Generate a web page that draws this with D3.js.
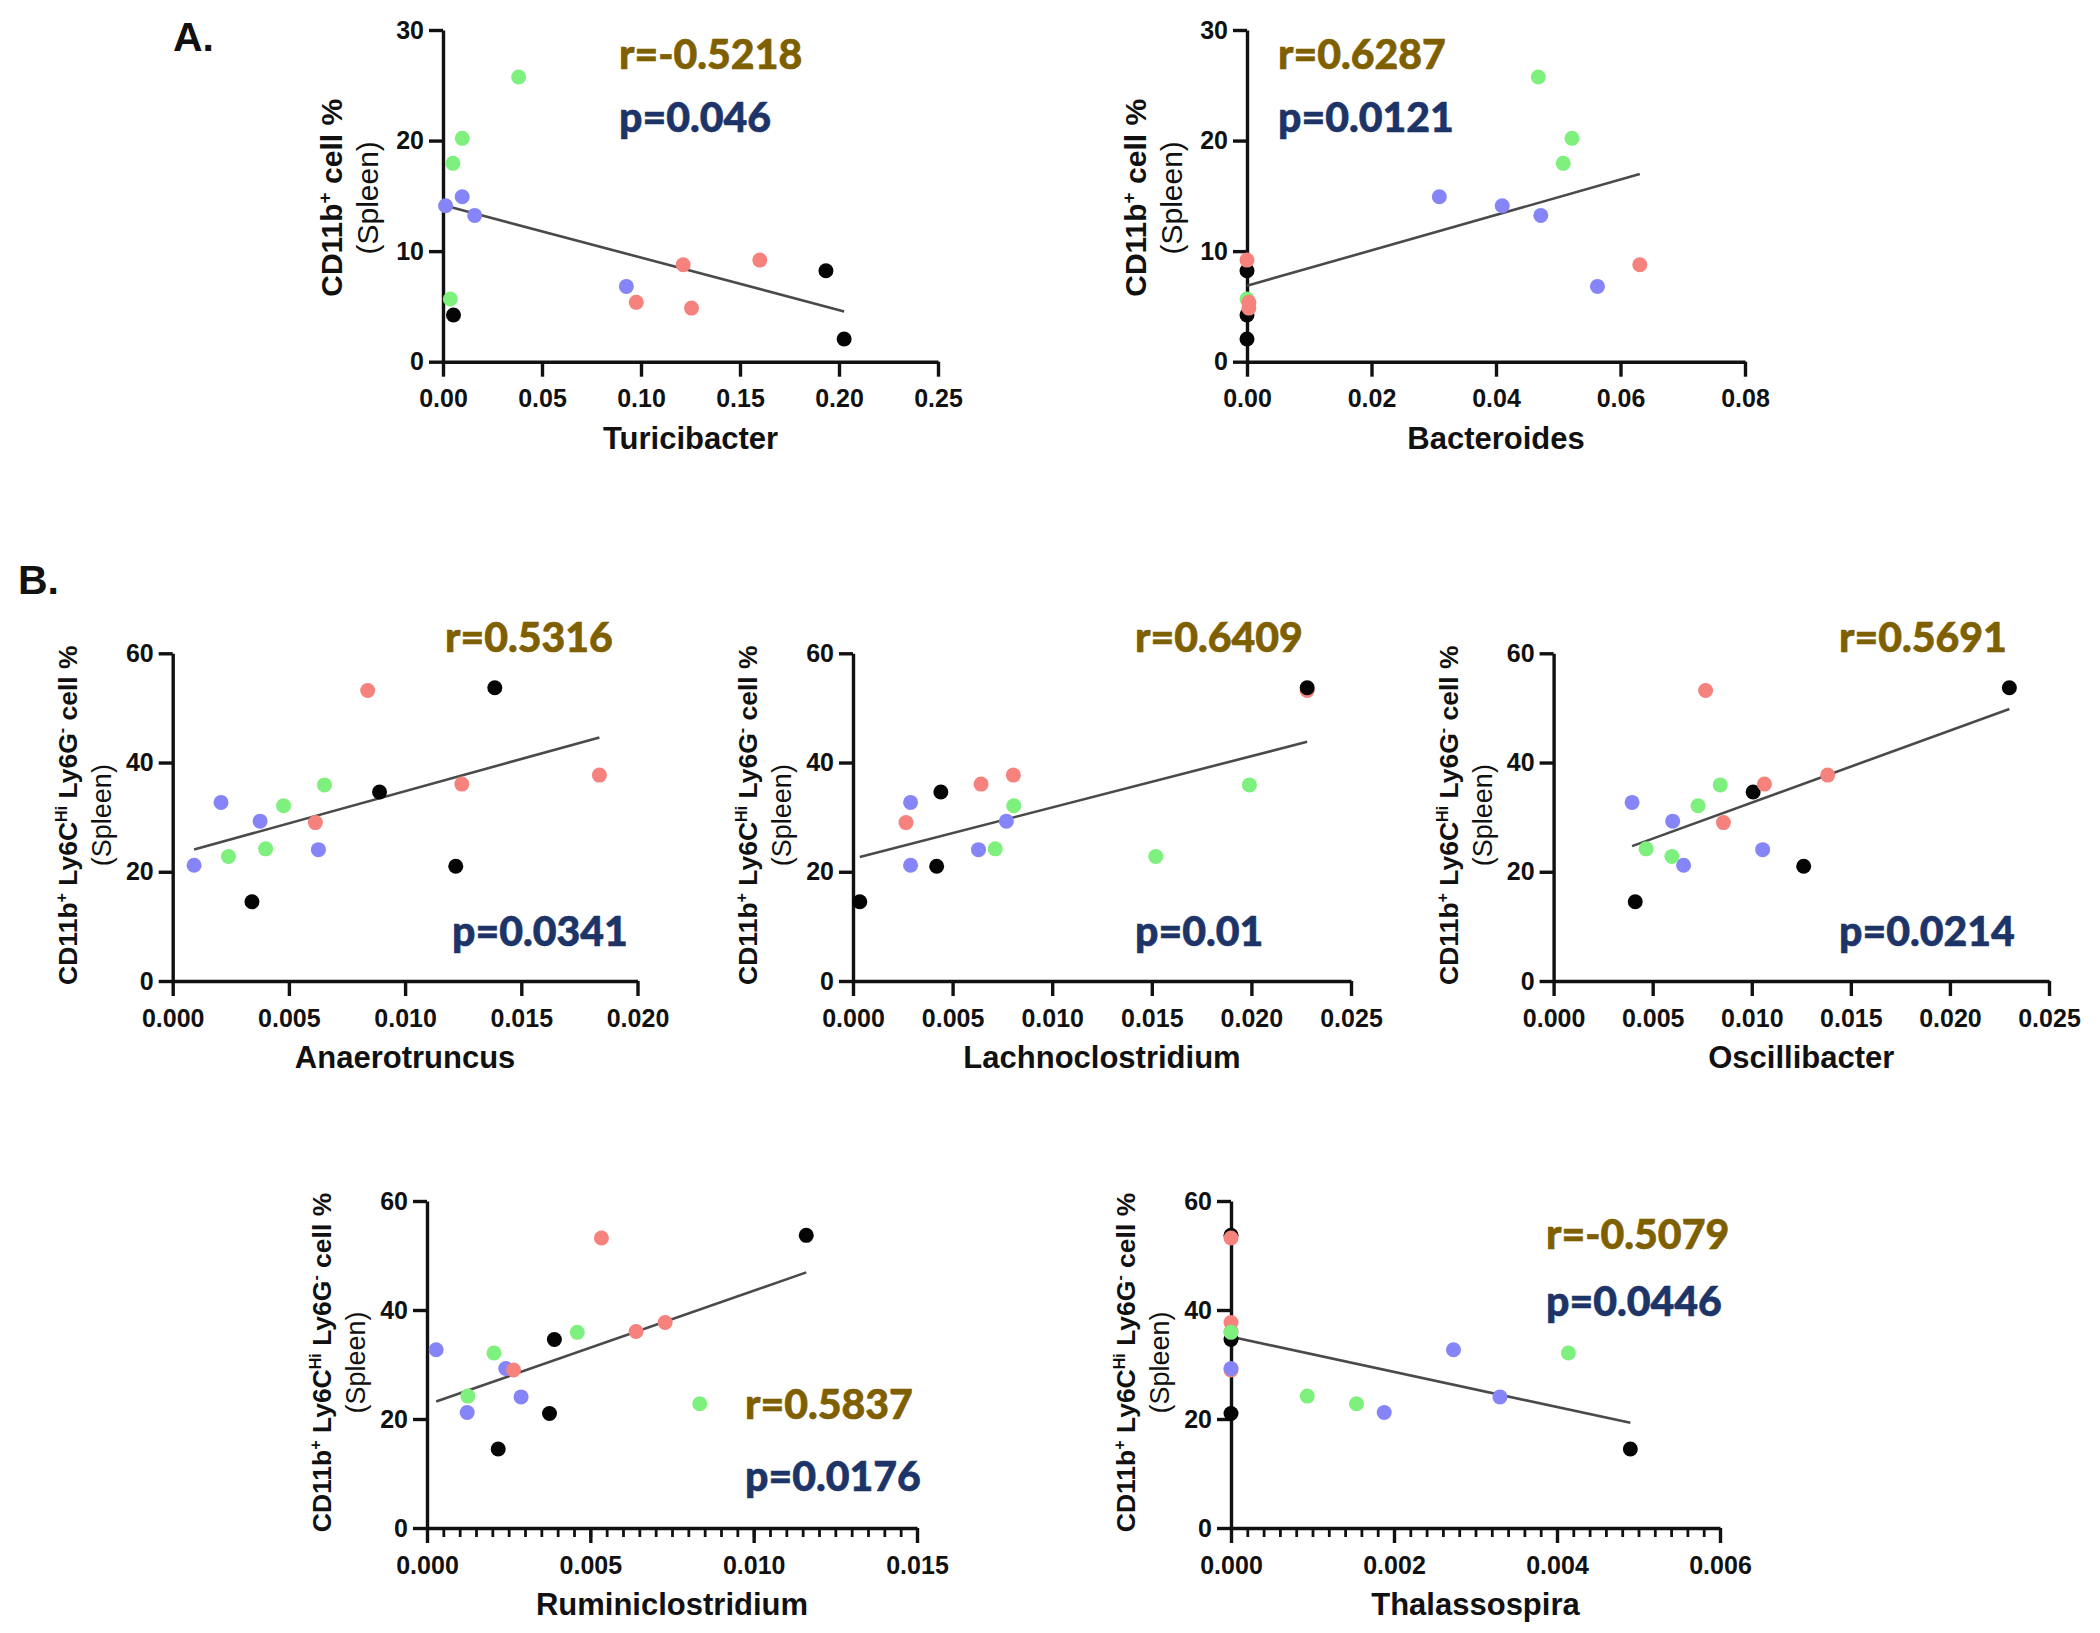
<!DOCTYPE html>
<html><head><meta charset="utf-8">
<script src="https://cdn.jsdelivr.net/npm/d3@7"></script>
<style>
body{margin:0;background:#fff;}
svg{display:block;}
</style></head><body><svg id="chart" width="2100" height="1633"></svg>
<script>
// ---------------- DATA ----------------
const groupColors = {black:"#050505", blue:"#8585F8", green:"#7EF07E", red:"#F5827D"};

// Panel A: mice (group, CD11b+ cell %)
const groupsA = ["black","black","black","red","red","red","red","green","green","green","green","blue","blue","blue","blue"];
const cd11bPct = [8.23, 4.22, 2.05, 9.19, 8.77, 5.37, 4.85, 25.75, 20.2, 17.94, 5.67, 14.92, 14.1, 13.23, 6.81];
const turicibacter = [0.1934, 0.0053, 0.2026, 0.160, 0.1213, 0.0976, 0.1255, 0.0382, 0.0097, 0.0050, 0.0037, 0.0097, 0.0013, 0.0160, 0.0926];
const bacteroides  = [0, 0, 0, 0, 0.0631, 0.0003, 0.0003, 0.0468, 0.0522, 0.0508, 0, 0.0309, 0.0410, 0.0472, 0.0563];

// Panel B: mice (group, CD11b+ Ly6Chi Ly6G- cell %)
const groupsB = ["black","black","black","black","red","red","red","red","green","green","green","green","blue","blue","blue","blue"];
const ly6cPct = [53.7, 34.6, 21.0, 14.5, 53.2, 37.7, 36.05, 29.0, 35.9, 32.1, 24.2, 22.8, 32.7, 29.27, 24.05, 21.2];
const anaerotruncus     = [0.01386, 0.0089, 0.01218, 0.00341, 0.00839, 0.01836, 0.01244, 0.00614, 0.00653, 0.00477, 0.0040, 0.0024, 0.00208, 0.00376, 0.00627, 0.00092];
const lachnoclostridium = [0.0228, 0.00441, 0.0042, 0.00034, 0.0228, 0.00805, 0.00643, 0.00266, 0.0199, 0.00807, 0.00714, 0.0152, 0.00289, 0.0077, 0.0063, 0.00289];
const oscillibacter     = [0.0230, 0.01007, 0.01262, 0.00412, 0.00767, 0.01383, 0.01064, 0.00857, 0.00841, 0.00729, 0.00467, 0.00597, 0.00396, 0.00601, 0.01055, 0.00656];
const ruminiclostridium = [0.01161, 0.0039, 0.00375, 0.00218, 0.00534, 0.00729, 0.0064, 0.00265, 0.0046, 0.00205, 0.00125, 0.00835, 0.00028, 0.00241, 0.00288, 0.00123];
const thalassospira     = [0, 0, 0, 0.0049, 0, 0, 0, 0, 0, 0.00414, 0.000936, 0.00154, 0.00273, 0, 0.0033, 0.00188];

// Regression lines: [[x0,y0],[x1,y1]]
const fitTuricibacter      = [[0.0013, 14.1], [0.2026, 4.55]];
const fitBacteroides       = [[0, 6.87], [0.0631, 16.97]];
const fitAnaerotruncus     = [[0.00092, 24.06], [0.01836, 44.6]];
const fitLachnoclostridium = [[0.00034, 22.7], [0.0228, 43.8]];
const fitOscillibacter     = [[0.00396, 24.7], [0.0230, 49.8]];
const fitRuminiclostridium = [[0.00028, 23.2], [0.01161, 46.9]];
const fitThalassospira     = [[0, 35.1], [0.0049, 19.3]];

const rLabels = ["r=-0.5218", "r=0.6287", "r=0.5316", "r=0.6409", "r=0.5691", "r=0.5837", "r=-0.5079"];
const pLabels = ["p=0.046", "p=0.0121", "p=0.0341", "p=0.01", "p=0.0214", "p=0.0176", "p=0.0446"];
const xTitles = ["Turicibacter", "Bacteroides", "Anaerotruncus", "Lachnoclostridium", "Oscillibacter", "Ruminiclostridium", "Thalassospira"];

const yTicksA = [0, 10, 20, 30];
const yTicksB = [0, 20, 40, 60];
const xTicksTuricibacter = [0, 0.05, 0.10, 0.15, 0.20, 0.25];
const xTicksBacteroides  = [0, 0.02, 0.04, 0.06, 0.08];
const xTicks020 = [0, 0.005, 0.010, 0.015, 0.020];
const xTicks025 = [0, 0.005, 0.010, 0.015, 0.020, 0.025];
const xTicks015 = [0, 0.005, 0.010, 0.015];
const xTicks006 = [0, 0.002, 0.004, 0.006];

// ---------------- LAYOUT ----------------
const panels = [
  {kind:"A", xs:turicibacter, ys:cd11bPct, gs:groupsA, fit:fitTuricibacter, xt:xTicksTuricibacter, fmt:".2f", yt:yTicksA,
   L:443, R:938, T:30, B:361.7, rx:619, ry:69, px:619, py:132, order:["black","green","blue","red"]},
  {kind:"A", xs:bacteroides, ys:cd11bPct, gs:groupsA, fit:fitBacteroides, xt:xTicksBacteroides, fmt:".2f", yt:yTicksA,
   L:1247, R:1745, T:30, B:361.7, rx:1278, ry:69, px:1278, py:132, order:["black","green","blue","red"]},
  {kind:"B", xs:anaerotruncus, ys:ly6cPct, gs:groupsB, fit:fitAnaerotruncus, xt:xTicks020, fmt:".3f", yt:yTicksB,
   L:172.7, R:637.5, T:653.3, B:981, rx:445, ry:652, px:452, py:946, order:["black","red","blue","green"]},
  {kind:"B", xs:lachnoclostridium, ys:ly6cPct, gs:groupsB, fit:fitLachnoclostridium, xt:xTicks025, fmt:".3f", yt:yTicksB,
   L:853, R:1351, T:653.3, B:981, rx:1135, ry:652, px:1135, py:946, order:["red","black","blue","green"]},
  {kind:"B", xs:oscillibacter, ys:ly6cPct, gs:groupsB, fit:fitOscillibacter, xt:xTicks025, fmt:".3f", yt:yTicksB,
   L:1553.6, R:2049, T:653.3, B:981, rx:1839, ry:652, px:1839, py:946, order:["black","red","blue","green"]},
  {kind:"B", xs:ruminiclostridium, ys:ly6cPct, gs:groupsB, fit:fitRuminiclostridium, xt:xTicks015, fmt:".3f", yt:yTicksB,
   L:427, R:917, T:1201, B:1528, rx:745, ry:1419, px:745, py:1491, order:["black","blue","red","green"], minor:0.0005},
  {kind:"B", xs:thalassospira, ys:ly6cPct, gs:groupsB, fit:fitThalassospira, xt:xTicks006, fmt:".3f", yt:yTicksB,
   L:1231, R:1720, T:1201, B:1528, rx:1546, ry:1249, px:1546, py:1316, order:["black","red","blue","green"], minor:0.0002}
];

const svg = d3.select("#chart");
svg.append("rect").attr("width",2100).attr("height",1633).attr("fill","#fff");

const AX_FONT = "'Liberation Sans', Arial, Helvetica, sans-serif";
const RP_FONT = "Lato, 'Open Sans', sans-serif";
const INK = "#111";

svg.append("text").attr("x",173).attr("y",51).text("A.")
  .attr("font-family",AX_FONT).attr("font-weight",700).attr("font-size",41).attr("fill",INK);
svg.append("text").attr("x",18).attr("y",594).text("B.")
  .attr("font-family",AX_FONT).attr("font-weight",700).attr("font-size",41).attr("fill",INK);

panels.forEach((p, i) => {
  const g = svg.append("g");
  const xMax = p.xt[p.xt.length-1], yMax = p.yt[p.yt.length-1];
  const x = d3.scaleLinear().domain([0, xMax]).range([p.L, p.R]);
  const y = d3.scaleLinear().domain([0, yMax]).range([p.B, p.T]);

  // minor ticks
  if (p.minor) {
    const n = Math.round(xMax / p.minor);
    const minors = d3.range(n+1).map(k => k * p.minor);
    const gm = g.append("g").attr("transform",`translate(0,${p.B})`)
      .call(d3.axisBottom(x).tickValues(minors).tickSize(9).tickSizeOuter(0).tickFormat(""));
    gm.select(".domain").remove();
    gm.selectAll("line").attr("stroke",INK).attr("stroke-width",2.8);
  }
  // x axis
  const gx = g.append("g").attr("transform",`translate(0,${p.B})`)
    .call(d3.axisBottom(x).tickValues(p.xt).tickSize(15).tickSizeOuter(0).tickPadding(8).tickFormat(d3.format(p.fmt)));
  // y axis
  const gy = g.append("g").attr("transform",`translate(${p.L},0)`)
    .call(d3.axisLeft(y).tickValues(p.yt).tickSize(14).tickSizeOuter(0).tickPadding(5).tickFormat(d3.format("d")));
  [gx, gy].forEach(a => {
    a.select(".domain").attr("stroke",INK).attr("stroke-width",3.4);
    a.selectAll(".tick line").attr("stroke",INK).attr("stroke-width",3.4);
    a.selectAll(".tick text").attr("font-family",AX_FONT).attr("font-weight",700)
      .attr("font-size",25).attr("fill",INK);
  });
  gx.selectAll(".tick text").attr("dy","0.9em");

  // x title
  g.append("text").attr("x",(p.L+p.R)/2).attr("y",p.B+87).attr("text-anchor","middle")
    .attr("font-family",AX_FONT).attr("font-weight",700).attr("font-size",31).attr("fill",INK)
    .text(xTitles[i]);

  // y title
  const cy = (p.T + p.B)/2 + 2;
  if (p.kind === "A") {
    const t = g.append("text").attr("transform",`translate(${p.L-101},${cy}) rotate(-90)`)
      .attr("text-anchor","middle").attr("font-family",AX_FONT).attr("font-weight",700)
      .attr("font-size",30).attr("fill",INK);
    t.append("tspan").text("CD11b");
    t.append("tspan").text("+").attr("font-size",19).attr("dy",-11);
    t.append("tspan").text(" cell %").attr("dy",11);
    g.append("text").attr("transform",`translate(${p.L-65},${cy}) rotate(-90)`)
      .attr("text-anchor","middle").attr("font-family",AX_FONT).attr("font-size",30).attr("fill",INK)
      .text("(Spleen)");
  } else {
    const t = g.append("text").attr("transform",`translate(${p.L-96},${cy-4}) rotate(-90)`)
      .attr("text-anchor","middle").attr("font-family",AX_FONT).attr("font-weight",700)
      .attr("font-size",26.5).attr("fill",INK);
    t.append("tspan").text("CD11b");
    t.append("tspan").text("+").attr("font-size",16).attr("dy",-10);
    t.append("tspan").text(" Ly6C").attr("dy",10);
    t.append("tspan").text("Hi").attr("font-size",16).attr("dy",-10);
    t.append("tspan").text(" Ly6G").attr("dy",10);
    t.append("tspan").text("-").attr("font-size",16).attr("dy",-10);
    t.append("tspan").text(" cell %").attr("dy",10);
    g.append("text").attr("transform",`translate(${p.L-62},${cy-4}) rotate(-90)`)
      .attr("text-anchor","middle").attr("font-family",AX_FONT).attr("font-size",27).attr("fill",INK)
      .text("(Spleen)");
  }

  // regression line
  g.append("line")
    .attr("x1", x(p.fit[0][0])).attr("y1", y(p.fit[0][1]))
    .attr("x2", x(p.fit[1][0])).attr("y2", y(p.fit[1][1]))
    .attr("stroke","#4a4a4a").attr("stroke-width",2.6);

  // points
  const pts = p.xs.map((xv, k) => ({x:xv, y:p.ys[k], g:p.gs[k]}))
    .sort((a,b) => p.order.indexOf(a.g) - p.order.indexOf(b.g));
  g.selectAll("circle.pt").data(pts).join("circle").attr("class","pt")
    .attr("cx", d => x(d.x)).attr("cy", d => y(d.y)).attr("r", 7.5)
    .attr("fill", d => groupColors[d.g]);

  // r / p
  g.append("text").attr("x",p.rx).attr("y",p.ry).text(rLabels[i])
    .attr("font-family",RP_FONT).attr("font-weight",900).attr("font-size",41)
    .attr("fill","#7F6000").attr("stroke","#7F6000").attr("stroke-width",0.6);
  g.append("text").attr("x",p.px).attr("y",p.py).text(pLabels[i])
    .attr("font-family",RP_FONT).attr("font-weight",900).attr("font-size",41)
    .attr("fill","#1C3468").attr("stroke","#1C3468").attr("stroke-width",0.6);
});
</script></body></html>
